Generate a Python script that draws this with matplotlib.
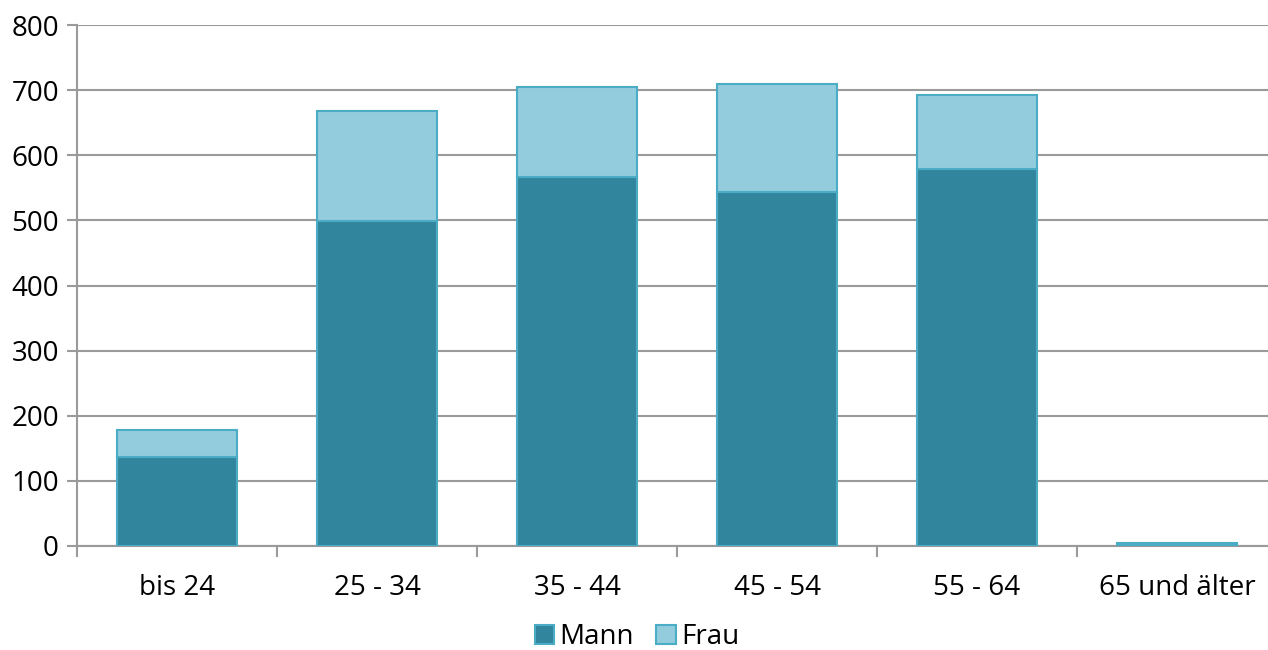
import matplotlib
matplotlib.use("Agg")
import matplotlib.pyplot as plt
import numpy as np

# data
categories = ["bis 24", "25 - 34", "35 - 44", "45 - 54", "55 - 64", "65 und älter"]
mann = [137, 499, 567, 543, 579, 3]
frau = [41, 169, 138, 167, 114, 1]

C_MANN = "#31859C"
C_FRAU = "#93CDDD"
C_EDGE = "#4BACC6"
GRID = "#9A9A9A"

plt.rcParams["font.family"] = ["Open Sans", "DejaVu Sans"]

fig = plt.figure(figsize=(12.68, 6.5), dpi=100)
ax = fig.add_axes([77 / 1268, 104 / 650, 1200 / 1268, 521 / 650])

x = np.arange(len(categories))
ax.bar(x, mann, width=0.6, color=C_MANN, edgecolor=C_EDGE, linewidth=1.5,
       label="Mann", zorder=3)
ax.bar(x, frau, bottom=mann, width=0.6, color=C_FRAU, edgecolor=C_EDGE,
       linewidth=1.5, label="Frau", zorder=3)

ax.set_xlim(-0.5, len(categories) - 0.5)
ax.set_ylim(0, 800)
ax.set_yticks(range(0, 801, 100))
ax.yaxis.grid(True, color=GRID, linewidth=1.5, zorder=0)
ax.set_axisbelow(True)

ax.set_xticks(x)
ax.set_xticklabels(categories)
ax.set_xticks(np.arange(-0.5, len(categories), 1), minor=True)
ax.tick_params(axis="x", which="major", length=0, pad=20, labelsize=20)
ax.tick_params(axis="x", which="minor", length=8, width=1.5, color=GRID)
ax.tick_params(axis="y", length=7, width=1.5, color=GRID, labelsize=20, pad=6)

for s in ("top", "right"):
    ax.spines[s].set_visible(False)
ax.spines["left"].set_color(GRID)
ax.spines["left"].set_linewidth(1.5)
ax.spines["bottom"].set_color(GRID)
ax.spines["bottom"].set_linewidth(1.5)

fig.legend(loc="center", bbox_to_anchor=(637 / 1268, 1 - 637 / 650), ncol=2,
           frameon=False, fontsize=20, handlelength=0.7, handleheight=0.7,
           handletextpad=0.2, columnspacing=0.8)

fig.savefig("out.png", dpi=100, facecolor="white")
